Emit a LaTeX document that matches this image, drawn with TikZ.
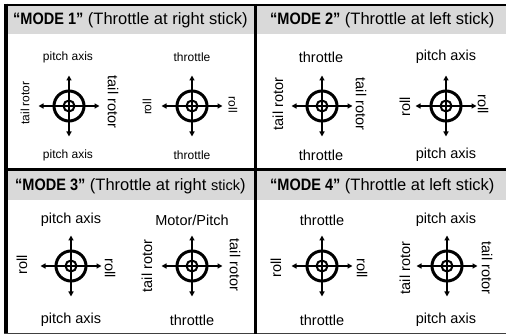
\documentclass[tikz,border=0pt]{standalone}
\usepackage{fontspec}
\setmainfont{Liberation Sans}
\newfontfamily\condfont[FakeStretch=0.88]{Liberation Sans}
\usetikzlibrary{arrows.meta}
\definecolor{hdr}{gray}{0.85}
\tikzset{
  frame/.style={line width=3pt,black},
  hdrbox/.style={fill=hdr,draw=none},
  hdrtext/.style={anchor=west,inner sep=0pt,font=\fontsize{16.5}{18}\selectfont},
  smalllab/.style={inner sep=0pt,font=\fontsize{12}{14}\selectfont},
  biglab/.style={inner sep=0pt,font=\fontsize{14.5}{16}\selectfont},
  ring/.style={line width=3pt},
  hub/.style={line width=2pt},
  axisline/.style={line width=2.4pt,{Triangle[length=5pt,width=5pt]}-{Triangle[length=5pt,width=5pt]}},
}
\newcommand\crosshair[1]{%
  \draw[ring] (#1) circle[radius=15pt];
  \draw[hub] (#1) circle[radius=5.5pt];
  \draw[axisline] ([xshift=-30.5pt]#1) -- ([xshift=30.5pt]#1);
  \draw[axisline] ([yshift=30.5pt]#1) -- ([yshift=-30.5pt]#1);
}
\newcommand\modehead[2]{{\condfont\bfseries “MODE #1”} #2}
\begin{document}
\begin{tikzpicture}[x=1pt,y=-1pt]
\useasboundingbox (0,0) rectangle (506,336);
\fill[white] (0,0) rectangle (506,336);
% header bands
\fill[hdrbox] (7.5,6) rectangle (254,34);
\fill[hdrbox] (257,6) rectangle (506,34);
\fill[hdrbox] (7.5,171) rectangle (254,200);
\fill[hdrbox] (257,171) rectangle (506,200);
% frame
\draw[line width=2.5pt] (4,5) -- (506,5);
\draw[line width=3.5pt] (6,3.75) -- (6,334);
\draw[line width=1.2pt,black!75] (4,333.6) -- (506,333.6);
\draw[frame] (255.5,4) -- (255.5,334);
\draw[frame] (4,169.5) -- (506,169.5);
% headers
\node[hdrtext] (h1) at (13,20) {\modehead{1}{(Throttle at right stick)}};
\node[hdrtext] (h2) at (270,20) {\modehead{2}{(Throttle at left stick)}};
\node[hdrtext] (h3) at (15,186) {\modehead{3}{(Throttle at right {\fontsize{14.5}{16}\selectfont stick})}};
\node[hdrtext] (h4) at (270,186) {\modehead{4}{(Throttle at left stick)}};
% crosshair centres
\coordinate (c1) at (69,106);
\coordinate (c2) at (192,106);
\coordinate (c3) at (322,106);
\coordinate (c4) at (446,106);
\coordinate (c5) at (71,266);
\coordinate (c6) at (192,266);
\coordinate (c7) at (322,266);
\coordinate (c8) at (447,266);
\crosshair{c1}\crosshair{c2}\crosshair{c3}\crosshair{c4}
\crosshair{c5}\crosshair{c6}\crosshair{c7}\crosshair{c8}
% MODE 1 labels
\node[smalllab] (m1a) at (68,57) {pitch axis};
\node[smalllab] (m1b) at (68,155) {pitch axis};
\node[smalllab,rotate=90] (m1c) at (25,103) {tail rotor};
\node[biglab,rotate=-90] (m1d) at (113,102) {tail rotor};
\node[smalllab] (m1e) at (192,57) {throttle};
\node[smalllab] (m1f) at (192,155) {throttle};
\node[smalllab,rotate=90] (m1g) at (147,107) {roll};
\node[smalllab,rotate=-90] (m1h) at (233,105) {roll};
% MODE 2 labels
\node[biglab] (m2a) at (321,57) {throttle};
\node[biglab] (m2b) at (321,155) {throttle};
\node[biglab,rotate=90] (m2c) at (278,104) {tail rotor};
\node[biglab,rotate=-90] (m2d) at (361,104) {tail rotor};
\node[biglab] (m2e) at (446,57) {pitch axis};
\node[biglab] (m2f) at (446,155) {pitch axis};
\node[biglab,rotate=90] (m2g) at (405,107) {roll};
\node[biglab,rotate=-90] (m2h) at (483,104) {roll};
% MODE 3 labels
\node[biglab] (m3a) at (71,220) {pitch axis};
\node[biglab] (m3b) at (71,320) {pitch axis};
\node[biglab,rotate=90] (m3c) at (22,265) {roll};
\node[biglab,rotate=-90] (m3d) at (110,268) {roll};
\node[biglab] (m3e) at (192,220) {Motor/Pitch};
\node[biglab] (m3f) at (192,320) {throttle};
\node[biglab,rotate=90] (m3g) at (147,266) {tail rotor};
\node[biglab,rotate=-90] (m3h) at (235,265) {tail rotor};
% MODE 4 labels
\node[biglab] (m4a) at (322,220) {throttle};
\node[biglab] (m4b) at (322,320) {throttle};
\node[biglab,rotate=90] (m4c) at (276,268) {roll};
\node[biglab,rotate=-90] (m4d) at (362,268) {roll};
\node[biglab] (m4e) at (446,220) {pitch axis};
\node[biglab] (m4f) at (446,320) {pitch axis};
\node[biglab,rotate=90] (m4g) at (405,268) {tail rotor};
\node[biglab,rotate=-90] (m4h) at (487,268) {tail rotor};
\end{tikzpicture}
\end{document}
